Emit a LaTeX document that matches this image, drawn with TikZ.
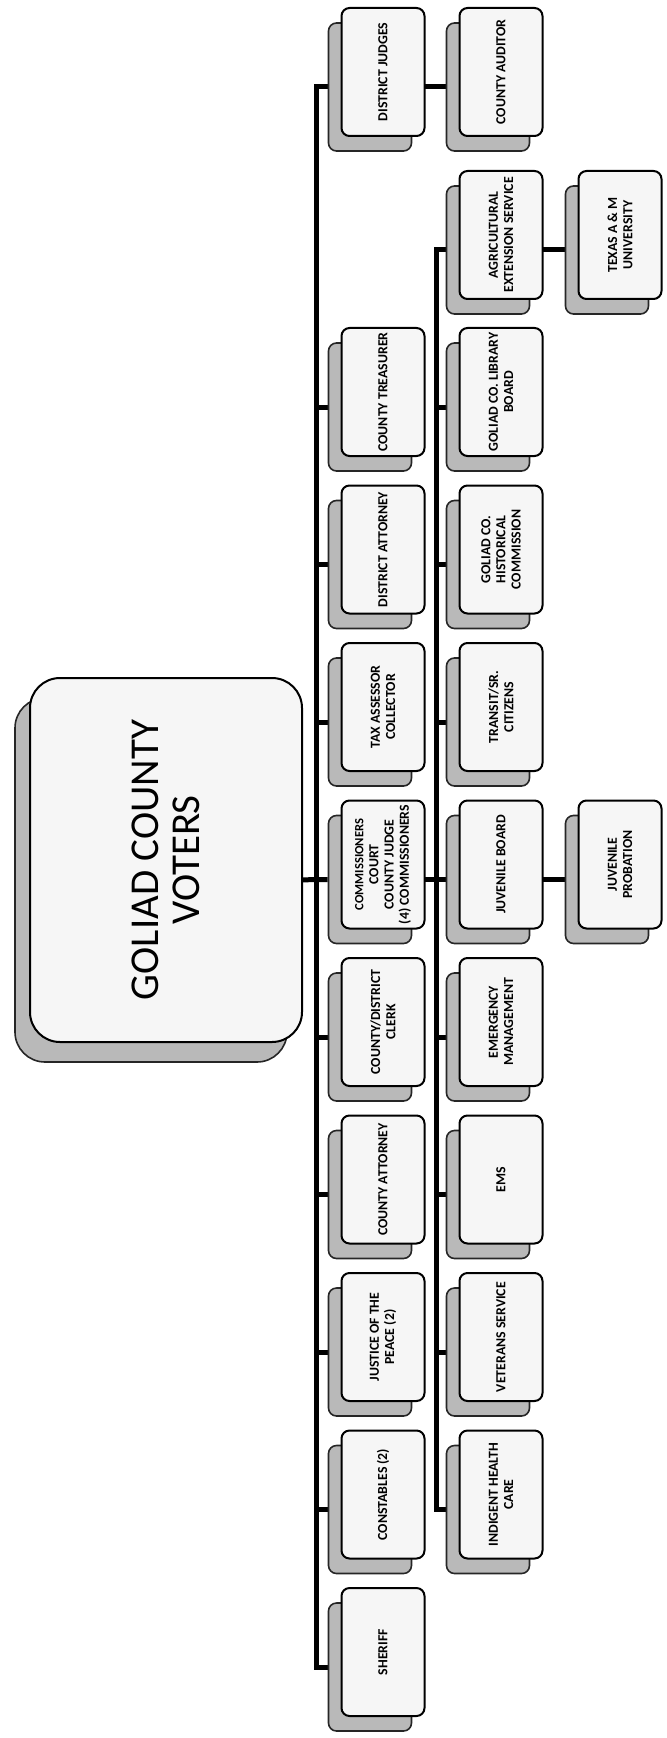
\documentclass[tikz,border=0pt]{standalone}
\usepackage{fontspec}
\setmainfont{Carlito}
\usetikzlibrary{backgrounds}

\tikzset{
  board/.style={draw=black, line width=1pt, rounded corners=4pt, fill=gray!7,
    minimum width=64pt, minimum height=41.5pt, inner sep=1pt, align=center,
    font=\bfseries\fontsize{6.9}{7.6}\selectfont, rotate=90},
  boardback/.style={draw=black!85, line width=0.8pt, rounded corners=4pt, fill=gray!55,
    minimum width=41.5pt, minimum height=64pt, inner sep=0pt},
  link/.style={line width=2.5pt},
}

% office = shadow box + front box with rotated text
\newcommand{\office}[4]{%
  \node[boardback] (#1-b) at ({#2-13},{#3+15}) {};
  \node[board] (#1) at (#2,#3) {#4};
}

\begin{document}
\begin{tikzpicture}[x=0.5pt, y=-0.5pt]
                \useasboundingbox (0,0) rectangle (667,1738);

                % ===== voters =====
                \node[boardback, minimum width=136pt, minimum height=182pt,
                  rounded corners=15pt] (voters-b) at (151,880) {};
                \node[board, minimum width=182pt, minimum height=136pt,
                  rounded corners=15pt, font=\fontsize{20.5}{20.5}\selectfont]
                  (voters) at (166,860) {GOLIAD COUNTY\\VOTERS};

                % ===== top row =====
                \office{judges}{383}{72}{DISTRICT JUDGES}
                \office{auditor}{501}{72}{COUNTY AUDITOR}
                \office{agri}{501}{235}{AGRICULTURAL\\EXTENSION SERVICE}
                \office{texas}{620}{235}{TEXAS A \& M\\UNIVERSITY}

                % ===== elected offices =====
                \office{treasurer}{383}{392}{COUNTY TREASURER}
                \office{attorney}{383}{549.5}{DISTRICT ATTORNEY}
                \office{tax}{383}{707}{TAX ASSESSOR\\COLLECTOR}
                \office{comm}{383}{864.5}{\fontsize{6.3}{7.5}\selectfont COMMISSIONERS\\COURT\\COUNTY JUDGE\\(4) COMMISSIONERS}
                \office{clerk}{383}{1022}{COUNTY/DISTRICT\\CLERK}
                \office{countyatty}{383}{1179.5}{COUNTY ATTORNEY}
                \office{justice}{383}{1337}{JUSTICE OF THE\\PEACE (2)}
                \office{constables}{383}{1494.5}{CONSTABLES (2)}
                \office{sheriff}{383}{1652}{SHERIFF}

                % ===== under commissioners court =====
                \office{library}{501}{392}{GOLIAD CO. LIBRARY\\BOARD}
                \office{historical}{501}{549.5}{GOLIAD CO.\\HISTORICAL\\COMMISSION}
                \office{transit}{501}{707}{TRANSIT/SR.\\CITIZENS}
                \office{juvenile}{501}{864.5}{JUVENILE BOARD}
                \office{probation}{620}{864.5}{JUVENILE\\PROBATION}
                \office{emergency}{501}{1022}{EMERGENCY\\MANAGEMENT}
                \office{ems}{501}{1179.5}{EMS}
                \office{veterans}{501}{1337}{VETERANS SERVICE}
                \office{indigent}{501}{1494.5}{INDIGENT HEALTH\\CARE}

                \coordinate (trunk1) at (316,0);
                \coordinate (trunk2) at (436,0);

                % ===== connectors =====
                \begin{scope}[on background layer]
                \draw[link] (judges-b.west) -| (trunk1 |- sheriff-b.west) -- (sheriff-b.west);
                \foreach \n in {treasurer,attorney,tax,clerk,countyatty,justice,constables}
                  \draw[link] (\n-b.west) -- (\n-b.west -| trunk1);

                \draw[link] (voters-b.east) -- (comm-b.west);
                \draw[link] (comm-b.east) -- (juvenile-b.west);
                \draw[link] (juvenile-b.east) -- (probation-b.west);

                \draw[link] (agri-b.west) -| (trunk2 |- indigent-b.west) -- (indigent-b.west);
                \foreach \n in {library,historical,transit,emergency,ems,veterans}
                  \draw[link] (\n-b.west) -- (\n-b.west -| trunk2);

                \draw[link] (judges-b.east) -- (auditor-b.west);
                \draw[link] (agri-b.east) -- (texas-b.west);
                \end{scope}

\end{tikzpicture}
\end{document}
